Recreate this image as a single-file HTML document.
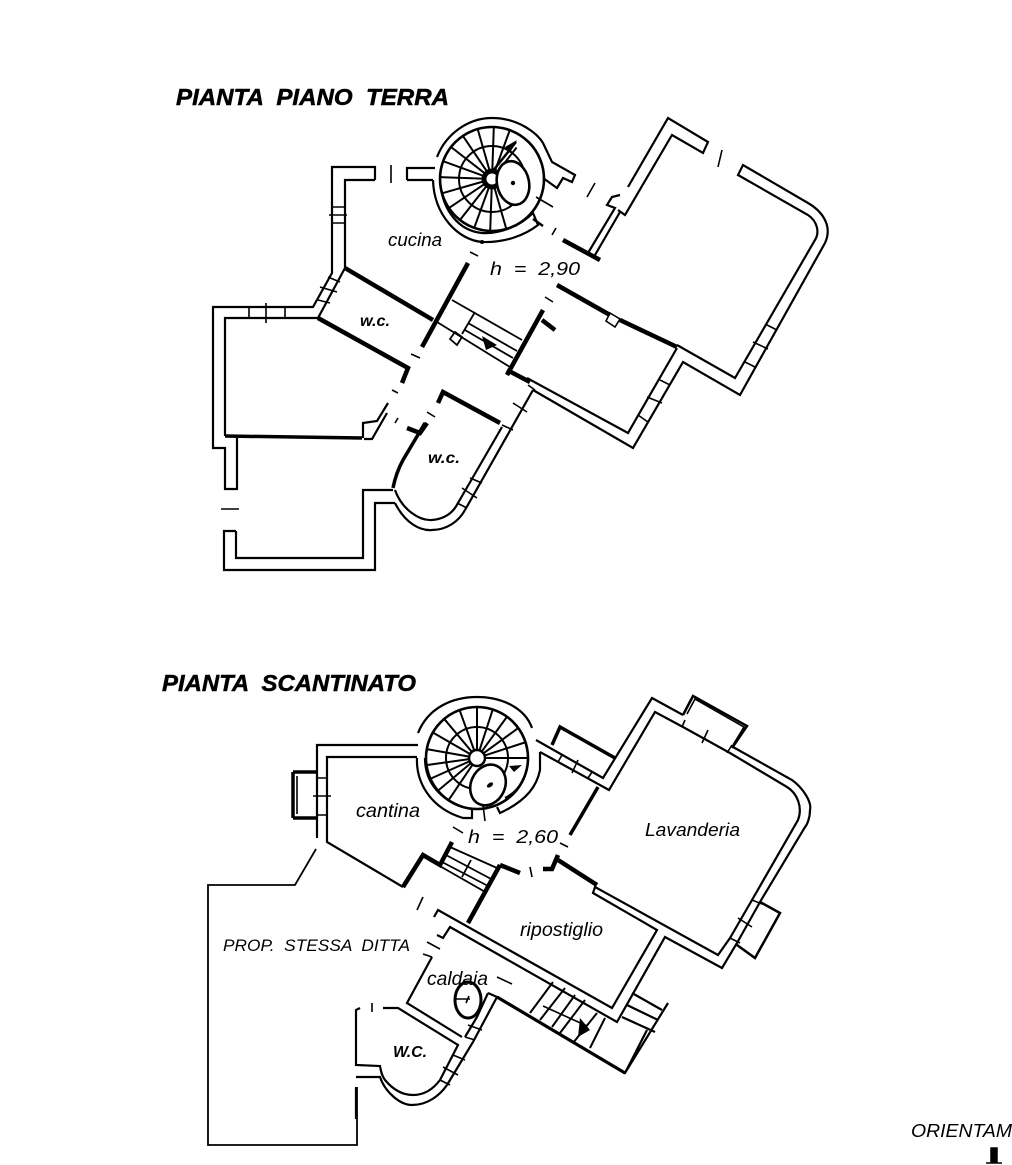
<!DOCTYPE html>
<html><head><meta charset="utf-8"><style>
html,body{margin:0;padding:0;background:#fff}
svg{display:block}
text{font-family:"Liberation Sans",sans-serif;font-style:italic;fill:#000;white-space:pre}
.t{font-weight:bold;font-size:23px;stroke:#000;stroke-width:.5}
.l{font-size:18px}
.w{fill:none;stroke:#000;stroke-width:2.2;stroke-linejoin:miter}
.k{fill:none;stroke:#000;stroke-width:4.5}
.n{fill:none;stroke:#000;stroke-width:1.6}
.s{fill:none;stroke:#000;stroke-width:2}
</style></head><body>
<svg width="1012" height="1165" viewBox="0 0 1012 1165" xmlns="http://www.w3.org/2000/svg">
<text class="t" x="176" y="105" textLength="273" lengthAdjust="spacingAndGlyphs">PIANTA  PIANO  TERRA</text>
<text class="t" x="162" y="691" textLength="254" lengthAdjust="spacingAndGlyphs">PIANTA  SCANTINATO</text>
<text class="l" x="388" y="246" textLength="54" lengthAdjust="spacingAndGlyphs">cucina</text>
<text class="l" x="490" y="275" textLength="90" lengthAdjust="spacingAndGlyphs">h  =  2,90</text>
<text class="l" x="360" y="326" font-size="16" style="font-size:16px;font-weight:bold" textLength="30" lengthAdjust="spacingAndGlyphs">w.c.</text>
<text class="l" x="428" y="463" style="font-size:16px;font-weight:bold" textLength="32" lengthAdjust="spacingAndGlyphs">w.c.</text>
<text class="l" x="356" y="817" style="font-size:19px" textLength="64" lengthAdjust="spacingAndGlyphs">cantina</text>
<text class="l" x="468" y="843" textLength="90" lengthAdjust="spacingAndGlyphs">h  =  2,60</text>
<text class="l" x="645" y="836" textLength="95" lengthAdjust="spacingAndGlyphs">Lavanderia</text>
<text class="l" x="520" y="936" style="font-size:19px" textLength="83" lengthAdjust="spacingAndGlyphs">ripostiglio</text>
<text class="l" x="223" y="951" style="font-size:17px" textLength="187" lengthAdjust="spacingAndGlyphs">PROP.  STESSA  DITTA</text>
<text class="l" x="427" y="985" style="font-size:19px" textLength="61" lengthAdjust="spacingAndGlyphs">caldaia</text>
<text class="l" x="393" y="1057" style="font-size:16px;font-weight:bold" textLength="34" lengthAdjust="spacingAndGlyphs">W.C.</text>
<text class="l" x="911" y="1137" textLength="101" lengthAdjust="spacingAndGlyphs">ORIENTAM</text>
<path d="M991 1148h6v15h-6zM986 1163h16" fill="#000" stroke="#000" stroke-width="1.5"/>

<!-- GROUND FLOOR walls -->
<path class="w" d="M375 180V167H332V273L313 307H213V448H225V489H237V438"/>
<path class="w" d="M375 180H345V268L318 318H225V436"/>
<path class="k" d="M345 268L433 320M318 318L408 368L402 383M468 263L422 347"/>
<path class="k" style="stroke-width:3.5" d="M225 436L362 438"/>
<path class="w" d="M363 438V423L377 421L388 403M364 439H372L387 413"/>
<path class="n" d="M221 509H239M411 354L420 358M470 252L478 256M391 165V183M427 412L435 417M395 423L398 418M392 390L398 393M722 150L718 167M595 183L587 197M536 197L553 207M556 228L552 235M545 297L553 302"/>
<path class="w" d="M236 531V558H363V490H393M236 531H224V570H375V503H395"/>
<path class="w" d="M395 490C402 510 420 521 432 520C444 519 453 513 458 503M395 503C405 523 420 531 432 530C447 530 459 521 465 510"/>
<path class="k" d="M425 423L403 460C398 469 395 478 393 488" style="stroke-width:3.5"/>
<path class="k" d="M438 403L443 392L500 423M407 428L420 433L427 423"/>
<path class="w" d="M502 427L458 503M533 390L465 510"/>
<path class="w" d="M527 378L628 433L677 348M533 390L633 448L683 362L740 395L825 243C832 228 825 213 808 203L743 165L738 175L808 215C817 221 820 232 815 240L735 378L677 345"/>
<path class="k" d="M507 370L530 382M557 285L610 315M620 320L677 347"/>
<path class="w" d="M610 313L620 319L615 327L606 321Z" style="stroke-width:1.6"/>
<path class="w" d="M628 187L668 118L708 142L703 153L672 135L625 215L618 210M620 195L612 197L607 205L615 208L588 253M620 212L595 255"/>
<path class="k" d="M563 240L600 260"/>
<path class="w" d="M407 180V168H435M407 180H433"/>
<path class="n" d="M332 207H345M329 215H347M332 223H345M328 277L340 282M320 287L337 292M318 300L330 303M249 307V318M266 303V323M285 307V318M513 403L527 412M502 425L513 430M528 385L535 390M470 478L482 483M462 488L477 498M457 503L467 508M660 380L670 385M647 397L662 403M638 415L648 422M767 325L777 330M753 342L768 349M745 362L755 367"/>
<!-- stairs ground -->
<path class="w" style="stroke-width:1.8" d="M452 300L522 340M437 322L510 367M455 332L462 337L457 345L450 339ZM475 312L462 334M468 323L517 351M465 330L513 358"/>
<path class="k" d="M543 310L507 375M542 320L555 330"/>
<path d="M482 336L497 345L486 350Z" fill="#000"/>

<!-- ground spiral -->
<g transform="translate(492 179)">
<circle r="52" class="w" style="stroke-width:2.6"/>
<circle r="33" class="s"/>
<circle r="8" fill="#fff" stroke="#000" stroke-width="5"/>
<g class="s">
<path d="M10 0H52" transform="rotate(-70)"/><path d="M10 0H52" transform="rotate(-88)"/><path d="M10 0H52" transform="rotate(-106)"/><path d="M10 0H52" transform="rotate(-124)"/><path d="M10 0H52" transform="rotate(-142)"/><path d="M10 0H52" transform="rotate(-160)"/><path d="M10 0H52" transform="rotate(-178)"/><path d="M10 0H52" transform="rotate(164)"/><path d="M10 0H52" transform="rotate(146)"/><path d="M10 0H52" transform="rotate(128)"/><path d="M10 0H52" transform="rotate(110)"/><path d="M10 0H52" transform="rotate(92)"/><path d="M10 0H52" transform="rotate(74)"/><path d="M10 0H40" transform="rotate(-52)"/>
</g>
</g>
<ellipse cx="513" cy="183" rx="16" ry="22" fill="#fff" stroke="#000" stroke-width="2.6" transform="rotate(-12 513 183)"/>
<circle cx="513" cy="183" r="2.2" fill="#000"/>
<path d="M517 140L510 153L505 147Z" fill="#000"/>
<path class="k" style="stroke-width:2.5" d="M492 172L516 142"/>
<path class="w" d="M437 157C446 134 468 118 492 118C518 118 537 133 543 143L552 162L575 175L572 182L563 178L557 188L543 178"/>
<path class="w" d="M433 180C434 215 458 240 482 242C505 243 525 235 538 225L533 213C520 226 500 234 482 233C460 231 442 212 440 180"/>
<circle cx="482" cy="242" r="2" fill="#000"/>
<path class="k" style="stroke-width:2.5" d="M533 219L543 226"/>

<!-- BASEMENT -->
<path class="w" d="M418 745H317V838M417 757H327V842L403 887"/>
<path class="k" d="M403 887L423 855L440 865L452 842M500 865L468 923M500 865L520 873M543 869H552L558 855M558 860L597 885"/>
<path class="k" d="M293 772H317M293 818H317M293 772V818" style="stroke-width:3.5"/>
<path class="n" d="M297 776V814M317 778H327M313 796H331M317 815H327M453 827L463 833M423 897L417 910M560 843L568 847M530 867L532 877M483 805L485 821M427 942L440 949M497 977L512 984M423 954L432 957"/>
<path class="w" style="stroke-width:1.8" d="M316 849L295 885H208V1145H357V1087"/>
<path class="w" style="stroke-width:1.8" d="M450 847L497 868M446 855L493 880M442 862L490 887M438 865L487 893M471 860L462 877"/>

<!-- basement right room -->
<path class="w" d="M536 740L603 778L652 698L683 715M540 752L609 790L655 712L683 727L730 753L787 787C797 793 803 807 798 820L752 900L730 938L718 955L595 887L593 893L657 930L612 1008L438 910L434 917"/>
<path class="w" d="M733 747L792 780C803 788 812 802 810 810C810 818 807 825 805 827L760 902L737 943L722 968L665 937L617 1022L450 927L443 938L437 935"/>
<path class="w" d="M760 902L780 913L755 958L737 945M683 715L693 696L747 726L732 748" style="stroke-width:2.5"/>
<path class="n" d="M687 714L695 699L744 727L733 745M685 720L682 727M708 730L702 743M732 745L727 753M562 755L558 762M578 760L572 773M592 772L588 778M738 918L752 927M752 900L762 904M730 938L740 943"/>
<path class="k" style="stroke-width:3.5" d="M552 745L560 727L615 758M598 787L570 835"/>
<path class="w" d="M497 997L625 1073L668 1003M632 993L662 1010M627 1005L658 1020M622 1017L655 1032M647 1030L625 1073"/>
<path class="k" style="stroke-width:3.2" d="M497 997L625 1073"/>
<path class="s" d="M553 982L530 1013M565 988L540 1020M575 995L552 1027M585 1000L560 1033M597 1013L573 1043M605 1018L590 1048"/>
<path class="n" d="M543 1006L587 1026"/>
<path d="M580 1018L590 1030L578 1037Z" fill="#000"/>
<!-- basement spiral -->
<g transform="translate(477 758)">
<circle r="51" class="w" style="stroke-width:2.6"/>
<circle r="31" class="s"/>
<circle r="8" fill="#fff" stroke="#000" stroke-width="2.5"/>
<g class="s">
<path d="M8 0H51" transform="rotate(0)"/><path d="M8 0H51" transform="rotate(-18)"/><path d="M8 0H51" transform="rotate(-36)"/><path d="M8 0H51" transform="rotate(-54)"/><path d="M8 0H51" transform="rotate(-72)"/><path d="M8 0H51" transform="rotate(-90)"/><path d="M8 0H51" transform="rotate(-110)"/><path d="M8 0H51" transform="rotate(-130)"/><path d="M8 0H51" transform="rotate(-150)"/><path d="M8 0H51" transform="rotate(-170)"/><path d="M8 0H51" transform="rotate(172)"/><path d="M8 0H51" transform="rotate(156)"/><path d="M8 0H51" transform="rotate(140)"/><path d="M8 0H51" transform="rotate(124)"/>
</g>
</g>
<ellipse cx="488" cy="785" rx="17" ry="21" fill="#fff" stroke="#000" stroke-width="2.6" transform="rotate(25 488 785)"/>
<ellipse cx="490" cy="785" rx="3.5" ry="2" fill="#000" transform="rotate(-35 490 785)"/>
<path d="M509 766L522 765L514 772Z" fill="#000"/>
<path class="w" d="M418 733C428 708 452 697 477 697C502 697 525 708 532 728"/>
<path class="w" d="M417 758C416 782 430 808 463 818L472 818V808M425 758C425 778 435 797 463 807"/>
<path class="w" d="M540 752V770C537 785 528 800 500 813L497 807M528 758C528 772 522 790 505 798"/>
<!-- caldaia, wc -->
<ellipse cx="468" cy="1000" rx="13" ry="18" fill="none" stroke="#000" stroke-width="3"/>
<path class="n" d="M455 999H470M466 1003L469 996"/>
<path class="w" d="M432 957L407 1003L462 1037M383 1008H398L458 1045L440 1080M488 993L477 1017L465 1037M488 993L497 997L473 1042L447 1085"/>
<path class="w" d="M360 1008L356 1010V1065L380 1066C381 1072 382 1076 385 1080C395 1092 405 1095 413 1095C425 1095 434 1088 440 1080M356 1077H380C385 1092 400 1105 412 1105C428 1105 440 1095 447 1085M356 1087V1119"/>
<path class="n" d="M372 1003V1012M468 1025L482 1030M465 1037L475 1040M453 1055L465 1060M443 1067L458 1075M440 1080L450 1085"/>
</svg>
</body></html>
